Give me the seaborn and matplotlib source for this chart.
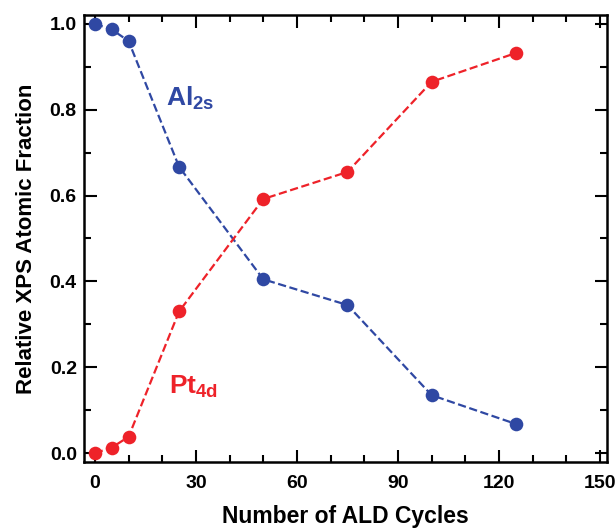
import matplotlib
matplotlib.use("Agg")
import matplotlib.pyplot as plt
import seaborn as sns
import pandas as pd
from matplotlib.ticker import MultipleLocator

cycles = [0, 5, 10, 25, 50, 75, 100, 125]
al_2s = [1.0, 0.987, 0.960, 0.667, 0.405, 0.345, 0.135, 0.068]
pt_4d = [0.0, 0.013, 0.038, 0.330, 0.592, 0.655, 0.865, 0.932]
x_ticks = [0, 30, 60, 90, 120, 150]
y_ticks = [0.0, 0.2, 0.4, 0.6, 0.8, 1.0]

blue = "#2f48a3"
red = "#ee2229"

sns.set_style("ticks", {"axes.edgecolor": "black", "xtick.color": "black",
                        "ytick.color": "black", "text.color": "black",
                        "axes.labelcolor": "black"})
plt.rcParams["font.family"] = ["Liberation Sans", "DejaVu Sans"]
plt.rcParams["font.weight"] = "bold"
plt.rcParams["mathtext.fontset"] = "custom"
plt.rcParams["mathtext.rm"] = "Liberation Sans:bold"
plt.rcParams["mathtext.bf"] = "Liberation Sans:bold"

fig = plt.figure(figsize=(6.16, 5.30), dpi=100)
ax = fig.add_axes([0.136, 0.128, 0.849, 0.844])

df = pd.DataFrame({"cycles": cycles, "al": al_2s, "pt": pt_4d})
sns.lineplot(data=df, x="cycles", y="al", ax=ax, color=blue, linestyle="--",
             linewidth=1.6, marker="o", markersize=9.8, markeredgewidth=0)
sns.lineplot(data=df, x="cycles", y="pt", ax=ax, color=red, linestyle="--",
             linewidth=1.6, marker="o", markersize=9.8, markeredgewidth=0)

ax.set_xlim(-3.3, 152)
ax.set_ylim(-0.021, 1.021)
ax.set_xticks(x_ticks)
ax.set_yticks(y_ticks)
ax.set_xticklabels([str(t) for t in x_ticks])
ax.set_yticklabels([f"{t:.1f}" for t in y_ticks])
ax.xaxis.set_minor_locator(MultipleLocator(10))
ax.yaxis.set_minor_locator(MultipleLocator(0.1))
ax.tick_params(which="both", direction="in", top=True, right=True, width=1.5,
               labelsize=14, colors="black")
ax.tick_params(axis="x", which="major", pad=9.5)
ax.tick_params(axis="y", which="major", pad=5)
ax.tick_params(which="major", length=9)
ax.tick_params(which="minor", length=5)
for s in ax.spines.values():
    s.set_linewidth(1.8)
    s.set_color("black")
    s.set_visible(True)
for lab in ax.get_xticklabels() + ax.get_yticklabels():
    lab.set_fontweight("bold")

ax.set_xlabel("Number of ALD Cycles", fontsize=16.5, fontweight="bold",
              labelpad=9, color="black")
ax.set_ylabel("Relative XPS Atomic Fraction", fontsize=16, fontweight="bold",
              labelpad=9, color="black")

ax.text(21, 0.826, r"$\mathbf{Al_{2s}}$", color=blue, fontsize=19, va="center", ha="left")
ax.text(22, 0.155, r"$\mathbf{Pt_{4d}}$", color=red, fontsize=19, va="center", ha="left")

fig.savefig("out.png", dpi=100)
